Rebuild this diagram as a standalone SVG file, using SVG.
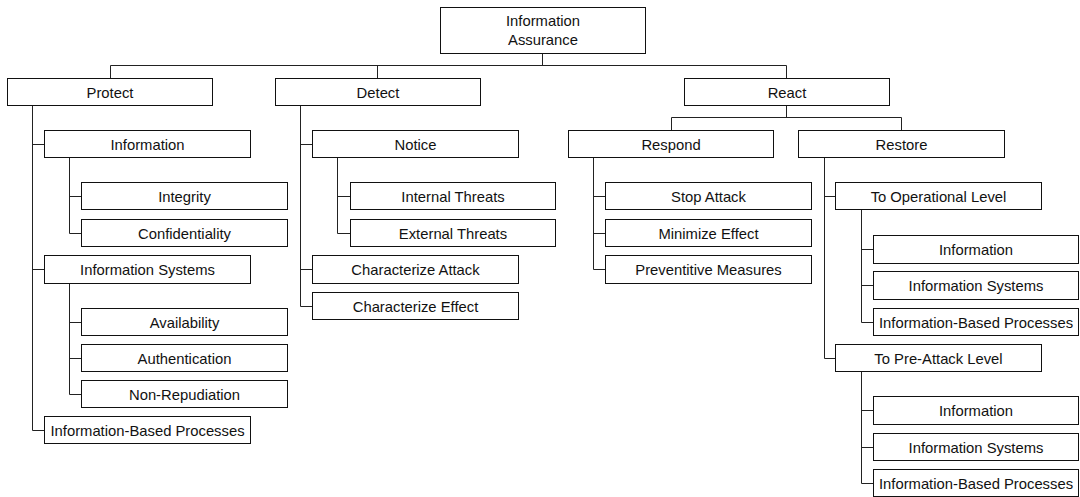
<svg xmlns="http://www.w3.org/2000/svg" width="1080" height="497" viewBox="0 0 1080 497">
<style>
rect{fill:#fff;stroke:#111;stroke-width:1}
text{font-family:"Liberation Sans",Arial,sans-serif;font-size:14.8px;fill:#111;text-anchor:middle}
.c path{fill:none;stroke:#222;stroke-width:1}
</style>
<rect x="0" y="0" width="1080" height="497" style="stroke:none"/>
<g class="c" id="connectors">
<path d="M542.5 53.5V65.5M110.5 78.5V65.5H786.5V78.5M377.5 65.5V78.5"/>
<path d="M32.5 105.5V430.5H44.5M32.5 144.5H44.5M32.5 269.5H44.5"/>
<path d="M69.5 157.5V233.5H81.5M69.5 196.5H81.5"/>
<path d="M69.5 283.5V394.5H81.5M69.5 322.5H81.5M69.5 358.5H81.5"/>
<path d="M300.5 105.5V306.5H312.5M300.5 144.5H312.5M300.5 269.5H312.5"/>
<path d="M337.5 157.5V233.5H350.5M337.5 196.5H350.5"/>
<path d="M786.5 105.5V117.5M671.5 130.5V117.5H901.5V130.5"/>
<path d="M593.5 157.5V269.5H605.5M593.5 196.5H605.5M593.5 233.5H605.5"/>
<path d="M824.5 157.5V358.5H835.5M824.5 196.5H835.5"/>
<path d="M861.5 209.5V322.5H873.5M861.5 249.5H873.5M861.5 285.5H873.5"/>
<path d="M861.5 371.5V483.5H873.5M861.5 410.5H873.5M861.5 447.5H873.5"/>
</g>
<g id="n-root"><rect x="440.5" y="7.5" width="205" height="46"/><text x="543" y="26">Information</text><text x="543" y="44.5">Assurance</text></g>
<g id="n-protect"><rect x="7.5" y="78.5" width="205" height="27"/><text x="110" y="97.5">Protect</text></g>
<g id="n-detect"><rect x="275.5" y="78.5" width="205" height="27"/><text x="378" y="97.5">Detect</text></g>
<g id="n-react"><rect x="684.5" y="78.5" width="205" height="27"/><text x="787" y="97.5">React</text></g>
<g id="n-p-info"><rect x="44.5" y="130.5" width="206" height="27"/><text x="147.5" y="149.5">Information</text></g>
<g id="n-integrity"><rect x="81.5" y="182.5" width="206" height="27"/><text x="184.5" y="201.5">Integrity</text></g>
<g id="n-confidentiality"><rect x="81.5" y="219.5" width="206" height="27"/><text x="184.5" y="238.5">Confidentiality</text></g>
<g id="n-p-infosys"><rect x="44.5" y="255.5" width="206" height="28"/><text x="147.5" y="274.5">Information Systems</text></g>
<g id="n-availability"><rect x="81.5" y="308.5" width="206" height="27"/><text x="184.5" y="327.5">Availability</text></g>
<g id="n-authentication"><rect x="81.5" y="344.5" width="206" height="27"/><text x="184.5" y="363.5">Authentication</text></g>
<g id="n-nonrep"><rect x="81.5" y="380.5" width="206" height="27"/><text x="184.5" y="399.5">Non-Repudiation</text></g>
<g id="n-p-ibp"><rect x="44.5" y="416.5" width="206" height="27"/><text x="147.5" y="435.5">Information-Based Processes</text></g>
<g id="n-notice"><rect x="312.5" y="130.5" width="206" height="27"/><text x="415.5" y="149.5">Notice</text></g>
<g id="n-internal"><rect x="350.5" y="182.5" width="205" height="27"/><text x="453" y="201.5">Internal Threats</text></g>
<g id="n-external"><rect x="350.5" y="219.5" width="205" height="27"/><text x="453" y="238.5">External Threats</text></g>
<g id="n-charattack"><rect x="312.5" y="255.5" width="206" height="28"/><text x="415.5" y="274.5">Characterize Attack</text></g>
<g id="n-chareffect"><rect x="312.5" y="292.5" width="206" height="27"/><text x="415.5" y="311.5">Characterize Effect</text></g>
<g id="n-respond"><rect x="568.5" y="130.5" width="205" height="27"/><text x="671" y="149.5">Respond</text></g>
<g id="n-restore"><rect x="798.5" y="130.5" width="206" height="27"/><text x="901.5" y="149.5">Restore</text></g>
<g id="n-stop"><rect x="605.5" y="182.5" width="206" height="27"/><text x="708.5" y="201.5">Stop Attack</text></g>
<g id="n-minimize"><rect x="605.5" y="219.5" width="206" height="27"/><text x="708.5" y="238.5">Minimize Effect</text></g>
<g id="n-preventive"><rect x="605.5" y="255.5" width="206" height="28"/><text x="708.5" y="274.5">Preventitive Measures</text></g>
<g id="n-toop"><rect x="835.5" y="182.5" width="206" height="27"/><text x="938.5" y="201.5">To Operational Level</text></g>
<g id="n-op-info"><rect x="873.5" y="235.5" width="205" height="28"/><text x="976" y="254.5">Information</text></g>
<g id="n-op-infosys"><rect x="873.5" y="271.5" width="205" height="28"/><text x="976" y="290.5">Information Systems</text></g>
<g id="n-op-ibp"><rect x="873.5" y="308.5" width="205" height="27"/><text x="976" y="327.5">Information-Based Processes</text></g>
<g id="n-topre"><rect x="835.5" y="344.5" width="206" height="27"/><text x="938.5" y="363.5">To Pre-Attack Level</text></g>
<g id="n-pre-info"><rect x="873.5" y="396.5" width="205" height="28"/><text x="976" y="415.5">Information</text></g>
<g id="n-pre-infosys"><rect x="873.5" y="433.5" width="205" height="27"/><text x="976" y="452.5">Information Systems</text></g>
<g id="n-pre-ibp"><rect x="873.5" y="469.5" width="205" height="27"/><text x="976" y="488.5">Information-Based Processes</text></g>
</svg>
